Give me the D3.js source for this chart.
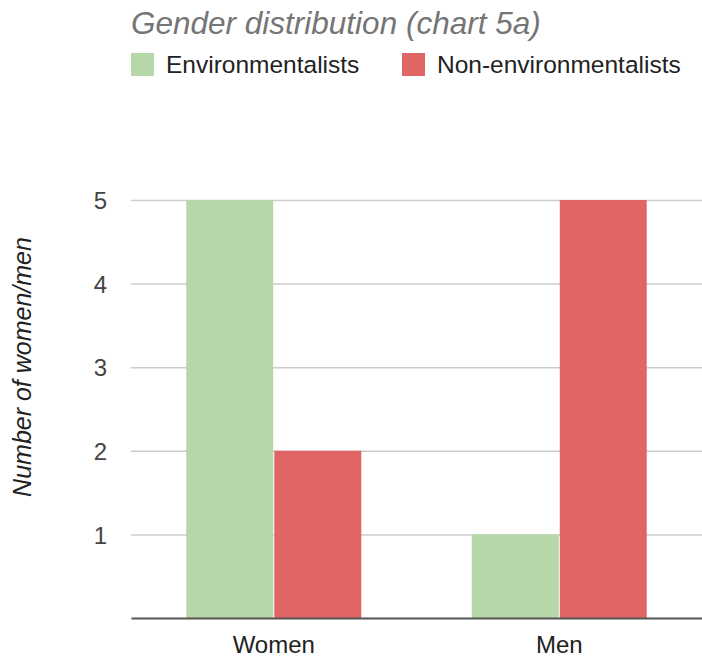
<!DOCTYPE html>
<html>
<head>
<meta charset="utf-8">
<script src="https://cdn.jsdelivr.net/npm/d3@7"></script>
<style>
  html, body { margin: 0; padding: 0; background: #fff; }
  svg { display: block; font-family: "Liberation Sans", Arial, sans-serif; }
</style>
</head>
<body>
<svg id="chart" width="702" height="658"></svg>
<script>
// Chart data
const categories = ["Women", "Men"];
const seriesNames = ["Environmentalists", "Non-environmentalists"];
const environmentalists = [5, 1];
const nonEnvironmentalists = [2, 5];
const yTicks = [1, 2, 3, 4, 5];
const seriesColors = ["#b6d7a8", "#e06666"];

const seriesValues = [environmentalists, nonEnvironmentalists];
const rows = categories.map((c, i) => ({
  category: c,
  values: seriesNames.map((s, j) => ({ series: s, value: seriesValues[j][i], idx: j }))
}));

const svg = d3.select("#chart");
const plot = { left: 131, right: 702, top: 200, bottom: 618 };

const x = d3.scaleBand()
  .domain(categories)
  .range([plot.left, plot.right])
  .paddingInner(0.387)
  .paddingOuter(0.1935);

const xSub = d3.scaleBand()
  .domain(seriesNames)
  .range([0, x.bandwidth()])
  .paddingInner(0.012);

const y = d3.scaleLinear()
  .domain([0, 5])
  .range([plot.bottom, plot.top]);

const color = d3.scaleOrdinal().domain(seriesNames).range(seriesColors);

// Title
svg.append("text")
  .attr("x", 131)
  .attr("y", 34)
  .attr("font-size", 31.5)
  .attr("font-style", "italic")
  .attr("fill", "#757575")
  .text("Gender distribution (chart 5a)");

// Legend
const legendX = [131, 402];
const legend = svg.append("g");
seriesNames.forEach((s, i) => {
  const g = legend.append("g").attr("transform", `translate(${legendX[i]},53)`);
  g.append("rect").attr("width", 23).attr("height", 23).attr("fill", color(s));
  g.append("text")
    .attr("x", 35)
    .attr("y", 20)
    .attr("font-size", 24.5)
    .attr("fill", "#222")
    .text(s);
});

// Gridlines and value labels
const yAxis = d3.axisLeft(y)
  .tickValues(yTicks)
  .tickFormat(d3.format("d"))
  .tickSize(-(plot.right - plot.left))
  .tickPadding(24);

const yg = svg.append("g")
  .attr("transform", `translate(${plot.left},0)`)
  .call(yAxis);
yg.select(".domain").remove();
yg.selectAll(".tick line").attr("stroke", "#cccccc").attr("stroke-width", 1.5);
yg.selectAll(".tick text")
  .attr("font-size", 24)
  .attr("fill", "#444")
  .attr("font-family", "Liberation Sans, Arial, sans-serif")
  .attr("dy", "0.36em");

// Y axis title
svg.append("text")
  .attr("transform", "translate(31,367) rotate(-90)")
  .attr("text-anchor", "middle")
  .attr("font-size", 25)
  .attr("font-style", "italic")
  .attr("fill", "#222")
  .text("Number of women/men");

// Bars
const groups = svg.append("g")
  .selectAll("g")
  .data(rows)
  .join("g")
  .attr("transform", d => `translate(${x(d.category)},0)`);

groups.selectAll("rect")
  .data(d => d.values)
  .join("rect")
  .attr("x", d => xSub(d.series))
  .attr("width", xSub.bandwidth())
  .attr("y", d => y(d.value))
  .attr("height", d => y(0) - y(d.value))
  .attr("fill", d => color(d.series));

// Baseline and category labels
const xAxis = d3.axisBottom(x).tickSize(0).tickPadding(18);
const xg = svg.append("g")
  .attr("transform", `translate(0,${plot.bottom})`)
  .call(xAxis);
xg.select(".domain").attr("stroke", "#555").attr("stroke-width", 2);
xg.selectAll(".tick text")
  .attr("font-size", 24)
  .attr("fill", "#222")
  .attr("font-family", "Liberation Sans, Arial, sans-serif");
</script>
</body>
</html>
